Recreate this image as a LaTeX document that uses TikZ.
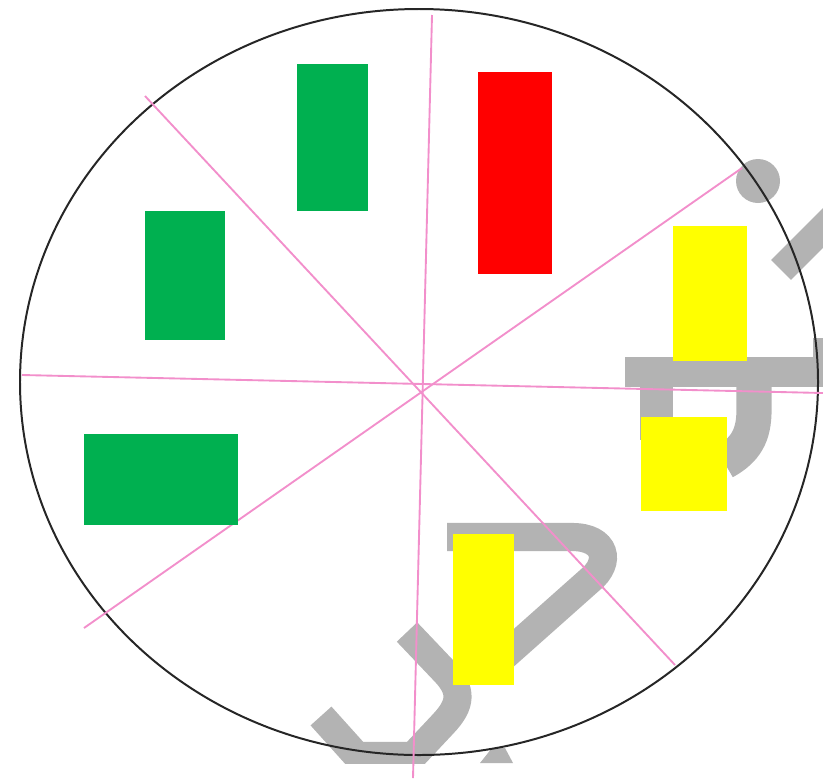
\documentclass[tikz,border=0pt]{standalone}
\usepackage{tikz}
\definecolor{BoxGreen}{RGB}{0,176,80}
\definecolor{BoxRed}{RGB}{255,0,0}
\definecolor{BoxYellow}{RGB}{255,255,0}
\definecolor{SpokePink}{RGB}{242,143,203}
\definecolor{WGray}{RGB}{179,179,179}
\tikzset{
  ring/.style={draw=black!85,line width=1.7pt},
  spoke/.style={draw=SpokePink,line width=1.6pt},
  gbox/.style={fill=BoxGreen},
  rbox/.style={fill=BoxRed},
  ybox/.style={fill=BoxYellow},
  wstroke/.style={draw=WGray,line width=24pt,line cap=butt,line join=miter},
  wfill/.style={fill=WGray},
}
\begin{document}
\begin{tikzpicture}[x=0.03cm,y=-0.03cm]
  \useasboundingbox (0,0) rectangle (823,780);

  % grey strokes behind the wheel
  \begin{scope}
    \clip (0,0) rectangle (823,763);
    % right group
    \fill[wfill] (758,181) circle [radius=22];
    \draw[wstroke] (781,270) -- (845,206);
    \fill[wfill] (625,357) rectangle (823,387);
    \fill[wfill] (813,338) rectangle (823,387);
    \fill[wfill] (640,387) rectangle (673,440);
    \draw[wstroke,line width=30pt] (754,385) -- (754,410)
      .. controls (754,435) and (746,450) .. (724,462);
    % bottom group
    \draw[wstroke] (447,537) -- (572,537)
      .. controls (606,537) and (612,562) .. (590,580) -- (500,660);
    \draw[wstroke] (321,716) -- (357,756) -- (413,756) -- (443,724)
      .. controls (462,704) and (462,690) .. (445,672) -- (407,632);
    \fill[wfill] (480,763) -- (492,748) -- (505,748) -- (513,763) -- cycle;
  \end{scope}

  % wheel and spokes
  \draw[ring] (419,382) ellipse [x radius=399, y radius=373];
  \foreach \xa/\ya/\xb/\yb in {432/15/413/778, 22/375/823/393,
                               145/96/675/665, 742/168/84/628}
    \draw[spoke] (\xa,\ya) -- (\xb,\yb);

  % blocks
  \fill[gbox] (297,64) rectangle (368,211);
  \fill[gbox] (145,211) rectangle (225,340);
  \fill[gbox] (84,434) rectangle (238,525);
  \fill[rbox] (478,72) rectangle (552,274);
  \fill[ybox] (673,226) rectangle (747,361);
  \fill[ybox] (641,417) rectangle (727,511);
  \fill[ybox] (453,534) rectangle (514,685);
\end{tikzpicture}
\end{document}
